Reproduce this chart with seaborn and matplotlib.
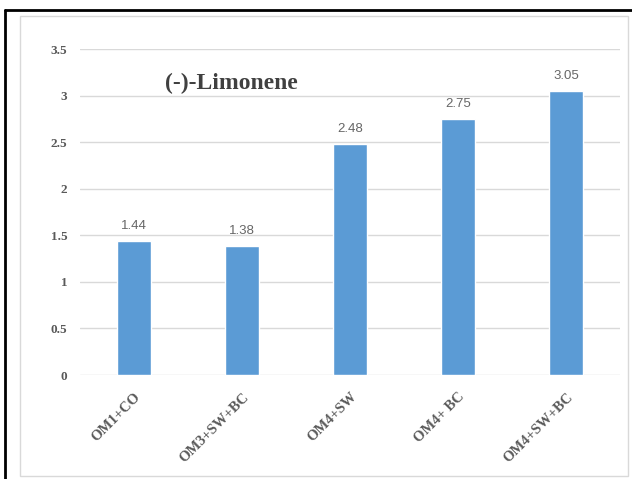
import seaborn as sns
import pandas as pd
import matplotlib.pyplot as plt
from matplotlib.lines import Line2D
from matplotlib.patches import Rectangle

# data
treatments = ["OM1+CO", "OM3+SW+BC", "OM4+SW", "OM4+ BC", "OM4+SW+BC"]
limonene = [1.44, 1.38, 2.48, 2.75, 3.05]
yticks = [0, 0.5, 1, 1.5, 2, 2.5, 3, 3.5]
ytick_labels = ["0", "0.5", "1", "1.5", "2", "2.5", "3", "3.5"]

df = pd.DataFrame({"Treatment": treatments, "Limonene": limonene})

sns.set_style("white")
fig = plt.figure(figsize=(6.32, 4.79), dpi=100)

# outer frame (black top/left) and light grey chart border
fig.add_artist(Line2D([5 / 632, 5 / 632], [0, 1 - 10 / 479], color="black", lw=2))
fig.add_artist(Line2D([5 / 632, 1], [1 - 10 / 479, 1 - 10 / 479], color="black", lw=2))
fig.add_artist(Rectangle((20 / 632, 3 / 479), 608 / 632, 460 / 479, fill=False,
                         edgecolor="#d9d9d9", lw=1, transform=fig.transFigure))

ax = fig.add_axes([80 / 632, 104 / 479, 540 / 632, 326 / 479])
sns.barplot(data=df, x="Treatment", y="Limonene", color="#5b9bd5",
            saturation=1, width=0.315, ax=ax)

ax.set_xlim(-0.5, 4.5)
ax.set_ylim(0, 3.5)
ax.set_yticks(yticks)
ax.set_yticklabels(ytick_labels, family="Liberation Serif", fontweight="bold",
                   fontsize=9.5, color="#595959")
ax.set_xticks(range(len(treatments)))
ax.set_xticklabels(treatments, rotation=45, ha="right", rotation_mode="anchor",
                   family="Liberation Serif", fontweight="bold", fontsize=10.5,
                   color="#595959")
ax.tick_params(axis="both", length=0)
ax.tick_params(axis="y", pad=9)
ax.tick_params(axis="x", pad=11)
ax.set_xlabel("")
ax.set_ylabel("")
for s in ax.spines.values():
    s.set_visible(False)
ax.yaxis.grid(True, color="#d9d9d9", lw=1)
ax.set_axisbelow(True)

for i, v in enumerate(limonene):
    ax.text(i, v + 0.1, f"{v:.2f}", ha="center", va="bottom", fontsize=9.5,
            color="#666666", family="Liberation Sans")

ax.text(0.157, 0.893, "(-)-Limonene", transform=ax.transAxes,
        family="Liberation Serif", fontweight="bold", fontsize=17,
        color="#404040", ha="left", va="center")

fig.savefig("out.png", dpi=100)
